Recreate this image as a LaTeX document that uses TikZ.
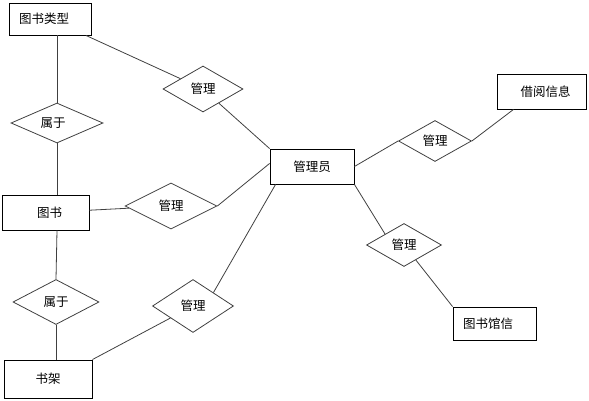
\documentclass[tikz,border=0pt]{standalone}
\usepackage{fontspec}
\setmainfont{Noto Sans CJK SC}
\usetikzlibrary{shapes.geometric}
\begin{document}
\begin{tikzpicture}[x=1pt,y=-1pt,
  font=\fontsize{12.5}{14}\selectfont,
  entity/.style={draw=black,line width=0.9pt,rectangle,inner sep=0pt},
  rel/.style={draw=black!75,line width=0.8pt,diamond,inner sep=0pt},
  link/.style={draw=black!75,line width=0.8pt}]
\useasboundingbox (0,0) rectangle (589,401);
% entities
\node[entity,minimum width=82pt,minimum height=32pt] (type) at (50,19) {\kern-12pt 图书类型};
\node[entity,minimum width=84pt,minimum height=35pt] (admin) at (312,166.5) {管理员};
\node[entity,minimum width=89pt,minimum height=35pt] (info) at (541.5,91.5) {\kern8pt 借阅信息};
\node[entity,minimum width=87pt,minimum height=35pt] (book) at (45.5,212.5) {\kern8pt 图书};
\node[entity,minimum width=88pt,minimum height=38pt] (shelf) at (48,379) {书架};
\node[entity,minimum width=83pt,minimum height=33pt] (lib) at (494.5,323.5) {\kern-13pt 图书馆信};
% relationships
\node[rel,minimum width=80pt,minimum height=46pt] (m1) at (203,89) {管理};
\node[rel,minimum width=92pt,minimum height=40pt] (s1) at (57,123) {\kern-8pt 属于};
\node[rel,minimum width=92pt,minimum height=46pt] (m2) at (171,206) {管理};
\node[rel,minimum width=86pt,minimum height=45pt] (s2) at (56,302) {属于};
\node[rel,minimum width=81pt,minimum height=53pt] (m3) at (193,306) {管理};
\node[rel,minimum width=73pt,minimum height=41pt] (m4) at (435,141) {管理};
\node[rel,minimum width=75pt,minimum height=43pt] (m5) at (404,245) {管理};
% connectors
\draw[link] (type) -- (m1);
\draw[link] (m1) -- (admin.north west);
\draw[link] (s1.north |- type.south) -- (s1.north);
\draw[link] (s1.south) -- (s1.south |- book.north);
\draw[link] (book) -- (m2);
\draw[link] (m2.east) -- ([yshift=3pt]admin.west);
\draw[link] ([xshift=1pt]s2.north |- book.south) -- (s2.north);
\draw[link] (s2.south) -- (s2.south |- shelf.north);
\draw[link] (shelf.north east) -- (m3);
\draw[link] (m3.north east) -- ([xshift=6pt]admin.south west);
\draw[link] (admin.east) -- (m4.west);
\draw[link] (m4.east) -- ([xshift=-28pt]info.south);
\draw[link] (admin.south east) -- (m5.north west);
\draw[link] (m5) -- (lib.north west);
\end{tikzpicture}
\end{document}
